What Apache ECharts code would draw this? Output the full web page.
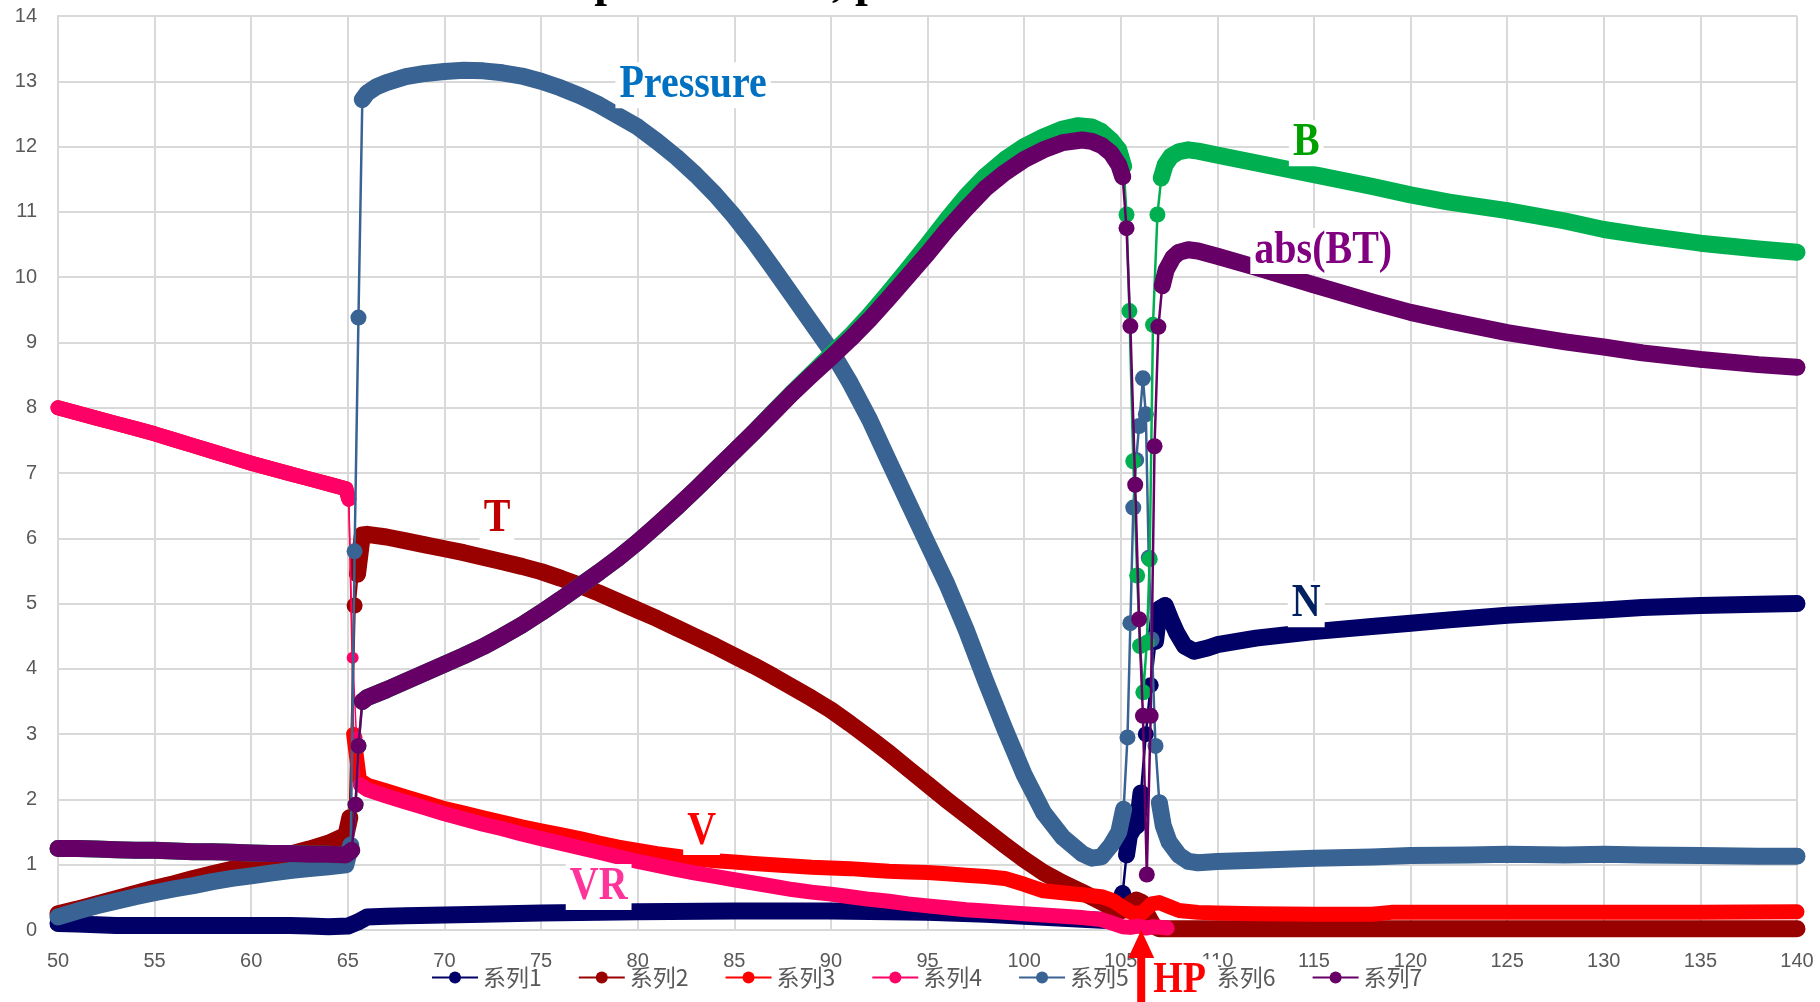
<!DOCTYPE html>
<html>
<head>
<meta charset="utf-8">
<style>
html, body { margin: 0; padding: 0; background: #fff; }
#main { width: 1820px; height: 1002px; }
</style>
<script src="https://cdn.jsdelivr.net/npm/echarts@6/dist/echarts.min.js"></script>
</head>
<body>
<div id="main"></div>
<script>
// 系列1 - N
const N_PTS = [[50,0.1],[51,0.09],[52,0.08],[53,0.07],[55,0.07],[57,0.07],[60,0.07],[62,0.07],[63,0.06],[64,0.05],[65,0.06],[65.5,0.12],[66,0.2],[67,0.21],[68,0.22],[70,0.23],[72,0.24],[75,0.26],[78,0.27],[80,0.28],[85,0.29],[90,0.29],[93,0.28],[95,0.27],[98,0.24],[100,0.21],[102,0.18],[104,0.15],[104.6,0.14],[105.1,0.56],[105.3,1.15],[105.45,1.45],[105.65,1.55],[105.85,1.6],[106.05,2.1],[106.3,3.0],[106.55,3.75],[106.8,4.42],[107,4.92],[107.3,4.97],[107.6,4.75],[107.9,4.55],[108.3,4.35],[108.8,4.27],[109.5,4.32],[110,4.37],[112,4.47],[115,4.57],[118,4.65],[120,4.7],[122,4.75],[125,4.82],[128,4.87],[130,4.9],[132,4.94],[135,4.97],[138,4.99],[140,5.0]]
// 系列2 - T
const T_PTS = [[50,0.25],[51,0.32],[52,0.4],[53,0.48],[54,0.56],[55,0.64],[56,0.71],[57,0.79],[58,0.86],[59,0.93],[60,1.0],[61,1.08],[62,1.16],[63,1.24],[64,1.33],[64.9,1.45],[65.1,1.72],[65.35,4.97],[65.5,5.45],[65.75,6.05],[66,6.06],[67,6.02],[68,5.96],[69,5.9],[70,5.84],[71,5.78],[72,5.71],[73,5.64],[74,5.57],[75,5.49],[76,5.39],[77,5.28],[78,5.16],[79,5.03],[80,4.9],[81,4.77],[82,4.63],[83,4.49],[84,4.35],[85,4.2],[86,4.05],[87,3.89],[88,3.72],[89,3.55],[90,3.37],[91,3.16],[92,2.94],[93,2.71],[94,2.47],[95,2.23],[96,1.99],[97,1.76],[98,1.53],[99,1.3],[100,1.08],[101,0.88],[102,0.72],[103,0.58],[104,0.43],[104.6,0.33],[105.1,0.3],[105.5,0.4],[105.8,0.46],[106.1,0.42],[106.4,0.22],[106.7,0.06],[107,0.02],[110,0.02],[115,0.02],[120,0.02],[125,0.02],[130,0.02],[135,0.02],[140,0.02]]
// 系列3 - V
const V_PTS = [[50,8.0],[51,7.92],[52,7.84],[53,7.76],[54,7.68],[55,7.6],[56,7.51],[57,7.42],[58,7.33],[59,7.24],[60,7.15],[61,7.07],[62,6.99],[63,6.91],[64,6.83],[64.9,6.76],[65.05,6.6],[65.3,3.0],[65.6,2.3],[66,2.22],[67,2.13],[68,2.04],[69,1.95],[70,1.86],[71,1.79],[72,1.72],[73,1.65],[74,1.58],[75,1.52],[76,1.46],[77,1.4],[78,1.33],[79,1.27],[80,1.22],[81,1.17],[82,1.13],[83,1.09],[84,1.06],[85,1.04],[86,1.02],[87,1.0],[88,0.98],[89,0.96],[90,0.95],[91,0.94],[92,0.92],[93,0.9],[94,0.89],[95,0.88],[96,0.86],[97,0.84],[98,0.82],[99,0.79],[100,0.7],[101,0.6],[102,0.57],[103,0.54],[104,0.51],[104.6,0.45],[105.1,0.35],[105.6,0.26],[106.1,0.26],[106.6,0.4],[107,0.42],[107.5,0.36],[108,0.3],[109,0.27],[110,0.26],[112,0.25],[115,0.24],[118,0.24],[119,0.27],[120,0.27],[125,0.27],[130,0.27],[135,0.27],[140,0.28]]
// 系列4 - VR
const VR_PTS = [[50,8.0],[51,7.92],[52,7.84],[53,7.76],[54,7.68],[55,7.6],[56,7.51],[57,7.42],[58,7.33],[59,7.24],[60,7.15],[61,7.07],[62,6.99],[63,6.91],[64,6.83],[64.9,6.76],[65.05,6.6],[65.25,4.17],[65.45,2.95],[65.65,2.22],[66,2.15],[67,2.05],[68,1.96],[69,1.87],[70,1.78],[71,1.7],[72,1.62],[73,1.55],[74,1.47],[75,1.4],[76,1.33],[77,1.26],[78,1.19],[79,1.12],[80,1.05],[81,0.99],[82,0.93],[83,0.87],[84,0.82],[85,0.77],[86,0.72],[87,0.67],[88,0.62],[89,0.58],[90,0.55],[91,0.51],[92,0.47],[93,0.44],[94,0.4],[95,0.37],[96,0.34],[97,0.31],[98,0.29],[99,0.27],[100,0.25],[101,0.23],[102,0.21],[103,0.19],[104,0.16],[104.6,0.1],[105.1,0.05],[105.5,0.04],[105.9,0.06],[106.3,0.03],[106.7,0.05],[107.1,0.04],[107.4,0.03]]
// 系列5 - Pressure
const P_PTS = [[50,0.2],[51,0.29],[52,0.37],[53,0.44],[54,0.51],[55,0.57],[56,0.63],[57,0.68],[58,0.74],[59,0.79],[60,0.83],[61,0.87],[62,0.91],[63,0.94],[64,0.97],[64.9,1.0],[65.15,1.3],[65.35,5.8],[65.55,9.38],[65.75,12.72],[66,12.82],[66.5,12.92],[67,12.98],[68,13.07],[69,13.12],[70,13.15],[71,13.17],[72,13.16],[73,13.13],[74,13.08],[75,13.0],[76,12.9],[77,12.78],[78,12.64],[79,12.47],[80,12.3],[81,12.08],[82,11.84],[83,11.57],[84,11.27],[85,10.93],[86,10.55],[87,10.14],[88,9.72],[89,9.3],[90,8.88],[91,8.38],[92,7.82],[93,7.18],[94,6.55],[95,5.92],[96,5.3],[97,4.6],[98,3.82],[99,3.08],[100,2.38],[101,1.8],[102,1.42],[103,1.17],[103.5,1.1],[104,1.12],[104.5,1.3],[104.9,1.5],[105.15,1.85],[105.35,2.95],[105.5,4.7],[105.65,6.47],[105.8,7.2],[105.95,7.72],[106.15,8.45],[106.3,7.9],[106.45,5.7],[106.6,4.45],[106.8,2.82],[107,1.95],[107.2,1.6],[107.5,1.35],[108,1.15],[108.5,1.05],[109,1.03],[110,1.05],[112,1.07],[115,1.1],[118,1.12],[120,1.14],[123,1.15],[125,1.16],[128,1.15],[130,1.16],[132,1.15],[135,1.14],[138,1.13],[140,1.13]]
// 系列6 - B
const B_PTS = [[50,1.25],[51,1.25],[52,1.24],[53,1.23],[54,1.22],[55,1.22],[56,1.21],[57,1.2],[58,1.2],[59,1.19],[60,1.18],[61,1.17],[62,1.17],[63,1.16],[64,1.16],[64.9,1.15],[65.2,1.22],[65.4,1.92],[65.55,2.82],[65.75,3.5],[66,3.56],[67,3.68],[68,3.81],[69,3.94],[70,4.07],[71,4.2],[72,4.34],[73,4.5],[74,4.67],[75,4.86],[76,5.06],[77,5.27],[78,5.48],[79,5.7],[80,5.94],[81,6.2],[82,6.47],[83,6.75],[84,7.04],[85,7.33],[86,7.62],[87,7.93],[88,8.23],[89,8.52],[90,8.81],[91,9.1],[92,9.42],[93,9.77],[94,10.13],[95,10.5],[96,10.88],[97,11.24],[98,11.55],[99,11.8],[100,12.0],[101,12.15],[102,12.27],[102.8,12.32],[103.5,12.3],[104,12.23],[104.5,12.1],[104.9,11.95],[105.15,11.7],[105.3,10.96],[105.45,9.48],[105.65,7.18],[105.85,5.43],[106,4.35],[106.17,3.64],[106.35,4.4],[106.5,5.68],[106.67,9.27],[106.9,10.96],[107.1,11.52],[107.3,11.72],[107.6,11.85],[108,11.92],[108.5,11.95],[109,11.93],[110,11.87],[112,11.75],[115,11.57],[118,11.39],[120,11.26],[122,11.15],[125,11.02],[128,10.86],[130,10.73],[132,10.64],[135,10.52],[138,10.43],[140,10.38]]
// 系列7 - abs(BT)
const BT_PTS = [[50,1.25],[51,1.25],[52,1.24],[53,1.23],[54,1.22],[55,1.22],[56,1.21],[57,1.2],[58,1.2],[59,1.19],[60,1.18],[61,1.17],[62,1.17],[63,1.16],[64,1.16],[64.9,1.15],[65.2,1.22],[65.4,1.92],[65.55,2.82],[65.75,3.5],[66,3.56],[67,3.68],[68,3.81],[69,3.94],[70,4.07],[71,4.2],[72,4.34],[73,4.5],[74,4.67],[75,4.86],[76,5.06],[77,5.27],[78,5.48],[79,5.7],[80,5.94],[81,6.2],[82,6.47],[83,6.75],[84,7.04],[85,7.33],[86,7.62],[87,7.92],[88,8.22],[89,8.5],[90,8.77],[91,9.05],[92,9.35],[93,9.68],[94,10.02],[95,10.36],[96,10.72],[97,11.05],[98,11.36],[99,11.6],[100,11.8],[101,11.95],[102,12.06],[103,12.1],[103.5,12.08],[104,12.02],[104.5,11.9],[104.9,11.72],[105.1,11.54],[105.3,10.75],[105.5,9.25],[105.75,6.82],[105.95,4.76],[106.15,3.28],[106.35,0.85],[106.55,3.28],[106.75,7.41],[106.95,9.24],[107.15,9.87],[107.35,10.11],[107.7,10.3],[108,10.38],[108.5,10.42],[109,10.4],[110,10.32],[112,10.15],[115,9.88],[118,9.62],[120,9.46],[122,9.33],[125,9.15],[128,9.01],[130,8.93],[132,8.84],[135,8.74],[138,8.66],[140,8.62]]

const NAMES = ["系列1", "系列2", "系列3", "系列4", "系列5", "系列6", "系列7"]
const COLORS = ["#000066", "#990000", "#ff0000", "#ff0066", "#386392", "#00b050", "#660066"]
const ALL_PTS = [N_PTS, T_PTS, V_PTS, VR_PTS, P_PTS, B_PTS, BT_PTS]
const THIN = [false, false, true, true, false, false, false]

// text notes, placed in data units
const NOTES = [
    { text: "Pressure", x: 82.87, y: 12.94, color: "#0070c0" },
    { text: "T", x: 72.72, y: 6.29, color: "#c00000" },
    { text: "B", x: 114.6, y: 12.05, color: "#00a000" },
    { text: "abs(BT)", x: 115.48, y: 10.4, color: "#800080" },
    { text: "N", x: 114.6, y: 4.99, color: "#002060" },
    { text: "V", x: 83.31, y: 1.5, color: "#ff0000" },
    { text: "VR", x: 77.98, y: 0.66, color: "#ff3399" }
]
const HP_X = 106.06

// thick run of the dense markers, cut where the curve jumps
function band(pts) {
    const out = []
    pts.forEach((p, i) => {
        if (i > 0) {
            const q = pts[i - 1]
            if (Math.abs((p[1] - q[1]) / (p[0] - q[0])) > 2.5) out.push([q[0], "-"])
        }
        out.push(p)
    })
    return out
}

// each series gets its own z so later series sit on top of earlier markers, as in Excel
const series = []
ALL_PTS.forEach((pts, i) => {
    series.push({
        name: NAMES[i], type: "line", data: pts, z: 10 + 2 * i,
        symbol: "circle", symbolSize: THIN[i] ? 12 : 16, showAllSymbol: true,
        itemStyle: { color: COLORS[i] },
        lineStyle: { color: COLORS[i], width: THIN[i] ? 1.5 : 2.5 }
    })
    series.push({
        name: NAMES[i], type: "line", data: band(pts), symbol: "none", z: 11 + 2 * i,
        itemStyle: { color: COLORS[i] },
        lineStyle: { color: COLORS[i], width: THIN[i] ? 15 : 17, cap: "round", join: "round" }
    })
})

const grey = "#d9d9d9"
const chart = echarts.init(document.getElementById("main"))
chart.setOption({
    animation: false,
    grid: { left: 58, right: 23, top: 16, bottom: 72 },
    xAxis: {
        type: "value", min: 50, max: 140, interval: 5,
        axisLine: { show: true, lineStyle: { color: grey, width: 2 } },
        axisTick: { show: false },
        splitLine: { show: true, lineStyle: { color: grey, width: 2 } },
        axisLabel: { margin: 21, fontSize: 20, color: "#595959", fontFamily: "Liberation Sans" }
    },
    yAxis: {
        type: "value", min: 0, max: 14, interval: 1,
        axisLine: { show: true, lineStyle: { color: grey, width: 2 } },
        axisTick: { show: false },
        splitLine: { show: true, lineStyle: { color: grey, width: 2 } },
        axisLabel: { margin: 21, fontSize: 20, color: "#595959", fontFamily: "Liberation Sans" }
    },
    legend: {
        data: NAMES, selectedMode: false, z: 40,
        left: 426, top: 961, itemWidth: 46, itemHeight: 15, itemGap: 36,
        textStyle: { fontSize: 23, color: "#595959", fontFamily: "Noto Sans CJK SC" }
    },
    series
})

const font = 'bold 40px "Liberation Serif"'
const graphic = NOTES.map(n => {
    const [x, y] = chart.convertToPixel({ gridIndex: 0 }, [n.x, n.y])
    return {
        type: "text", x, y, scaleY: 1.15, z: 100,
        style: { text: n.text, fill: n.color, font, align: "center", verticalAlign: "middle", backgroundColor: "#fff", padding: [0, 4] }
    }
})
const [ax, ay] = chart.convertToPixel({ gridIndex: 0 }, [HP_X, 0])
graphic.push({
    type: "polygon", z: 100,
    shape: { points: [[ax, ay], [ax + 13, ay + 28], [ax + 4, ay + 28], [ax + 4, 1002], [ax - 4, 1002], [ax - 4, ay + 28], [ax - 13, ay + 28]] },
    style: { fill: "#ff0000" }
})
graphic.push({
    type: "text", x: ax + 8, y: ay + 51, scaleY: 1.15, z: 100,
    style: { text: "HP", fill: "#ff0000", font: 'bold 38px "Liberation Serif"', align: "left", verticalAlign: "middle", backgroundColor: "#fff", padding: [0, 12, 0, 4] }
})
// cut-off title, only the descenders show at the top edge
graphic.push({ type: "text", x: 607, y: -16, z: 100, style: { text: "p", fill: "#000", font: 'bold 46px "Liberation Serif"', align: "center", verticalAlign: "middle" } })
graphic.push({ type: "text", x: 832, y: -16, z: 100, style: { text: ", p", fill: "#000", font: 'bold 46px "Liberation Serif"', align: "left", verticalAlign: "middle" } })
chart.setOption({ graphic })
</script>
</body>
</html>
